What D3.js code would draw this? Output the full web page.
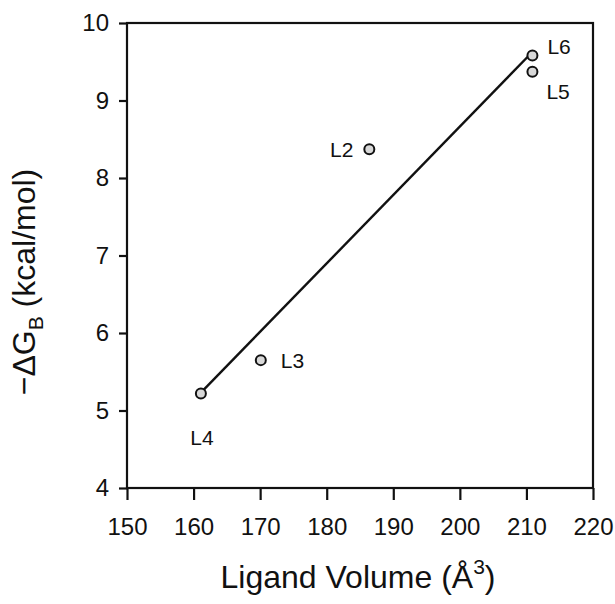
<!DOCTYPE html>
<html>
<head>
<meta charset="utf-8">
<script src="https://cdn.jsdelivr.net/npm/d3@7"></script>
<style>
  body { margin: 0; background: #fff; }
  text { font-family: "Liberation Sans", Arial, sans-serif; fill: #111; }
</style>
</head>
<body>
<svg id="chart"></svg>
<script>
// data
const ligands = ["L2", "L3", "L4", "L5", "L6"];
const volume = [186.4, 170.1, 161.1, 210.9, 210.9];
const dG = [8.37, 5.65, 5.22, 9.37, 9.58];
// fitted line ends
const fitX = [161.1, 210.6];
const fitY = [5.23, 9.6];
const xTicks = [150, 160, 170, 180, 190, 200, 210, 220];
const yTicks = [4, 5, 6, 7, 8, 9, 10];

// label placement (dx, dy, anchor) per ligand
const labelPos = {
  L2: [-16, 8, "end"],
  L3: [20, 8, "start"],
  L4: [1, 52, "middle"],
  L5: [14, 27, "start"],
  L6: [15, -2, "start"]
};

const W = 615, H = 604;
const margin = { top: 23, right: 22, bottom: 116, left: 127 };
const width = W - margin.left - margin.right;
const height = H - margin.top - margin.bottom;

const svg = d3.select("#chart").attr("width", W).attr("height", H);
const g = svg.append("g").attr("transform", `translate(${margin.left},${margin.top})`);

const x = d3.scaleLinear().domain([150, 220]).range([0, width]);
const y = d3.scaleLinear().domain([4, 10]).range([height, 0]);

// axes
const xAxis = g.append("g")
  .attr("transform", `translate(0,${height})`)
  .call(d3.axisBottom(x).tickValues(xTicks).tickFormat(d3.format("d"))
    .tickSize(12).tickPadding(18).tickSizeOuter(0));
const yAxis = g.append("g")
  .call(d3.axisLeft(y).tickValues(yTicks).tickFormat(d3.format("d"))
    .tickSize(8).tickPadding(10).tickSizeOuter(0));

[xAxis, yAxis].forEach(a => {
  a.select(".domain").remove();
  a.attr("font-size", null).attr("font-family", null);
  a.selectAll("line").attr("stroke", "#111").attr("stroke-width", 2.2);
  a.selectAll("text").attr("fill", "#111").style("font-size", "24px");
});

// frame
g.append("rect")
  .attr("width", width).attr("height", height)
  .attr("fill", "none").attr("stroke", "#111").attr("stroke-width", 2.2);

// fit line
g.append("line")
  .attr("x1", x(fitX[0])).attr("y1", y(fitY[0]))
  .attr("x2", x(fitX[1])).attr("y2", y(fitY[1]))
  .attr("stroke", "#111").attr("stroke-width", 2.4);

// points
const pts = ligands.map((l, i) => ({ name: l, v: volume[i], dg: dG[i] }));
g.selectAll(".pt")
  .data(pts)
  .enter().append("circle")
  .attr("class", "pt")
  .attr("cx", d => x(d.v))
  .attr("cy", d => y(d.dg))
  .attr("r", 5)
  .attr("fill", "#d8d8d8")
  .attr("stroke", "#111")
  .attr("stroke-width", 2);

g.selectAll(".lbl")
  .data(pts)
  .enter().append("text")
  .attr("class", "lbl")
  .attr("x", d => x(d.v) + labelPos[d.name][0])
  .attr("y", d => y(d.dg) + labelPos[d.name][1])
  .attr("text-anchor", d => labelPos[d.name][2])
  .style("font-size", "21px")
  .text(d => d.name);

// axis titles
const xt = svg.append("text")
  .attr("x", 358)
  .attr("y", 588)
  .attr("text-anchor", "middle")
  .style("font-size", "32px");
xt.append("tspan").text("Ligand Volume (Å");
xt.append("tspan").style("font-size", "21px").attr("dy", -14).text("3");
xt.append("tspan").attr("dy", 14).text(")");

const yt = svg.append("text")
  .attr("transform", "translate(35,282) rotate(-90)")
  .attr("text-anchor", "middle")
  .style("font-size", "32px");
yt.append("tspan").text("\u2212\u0394G");
yt.append("tspan").style("font-size", "21px").attr("dy", 8).text("B");
yt.append("tspan").attr("dy", -8).text(" (kcal/mol)");
</script>
</body>
</html>
